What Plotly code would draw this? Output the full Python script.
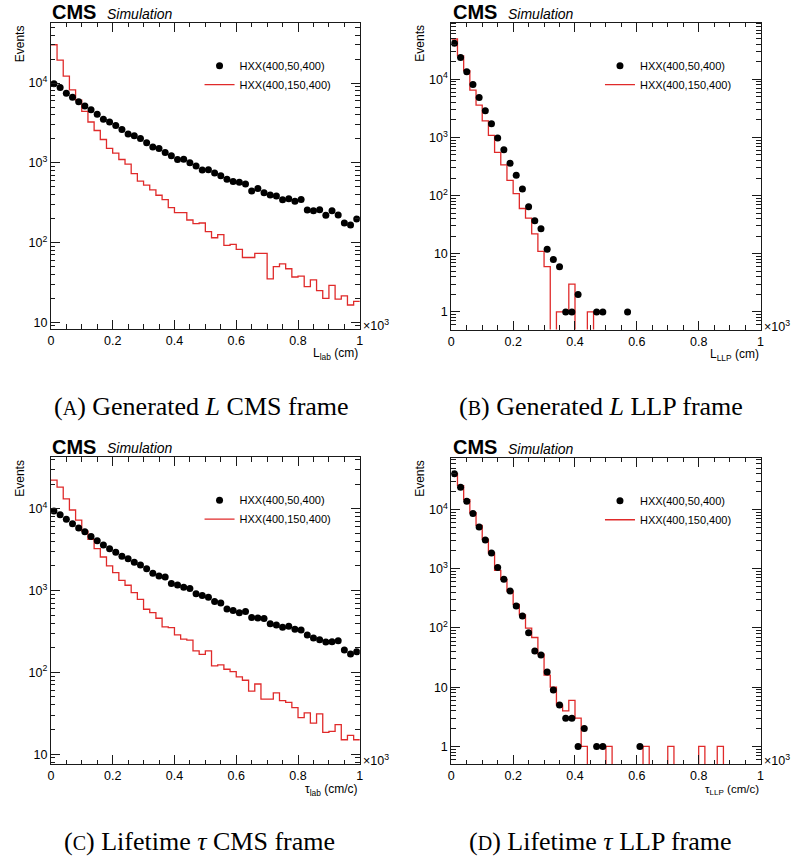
import numpy as np
import plotly.graph_objects as go

W, H = 791, 861

# 50 equal bins spanning [0, 1] x 10^3
N_BINS = 50
edges = np.linspace(0.0, 1.0, N_BINS + 1)
centers = 0.5 * (edges[:-1] + edges[1:])

legend_labels = ["HXX(400,50,400)", "HXX(400,150,400)"]
x_tick_vals = [0.0, 0.2, 0.4, 0.6, 0.8, 1.0]
x_tick_text = ["0", "0.2", "0.4", "0.6", "0.8", "1"]

# (A) decay length in the CMS frame
l_lab_m50 = [9800, 8800, 7450, 6620, 5840, 5160, 4620, 4060, 3520, 3250,
             2930, 2620, 2300, 2180, 2020, 1790, 1575, 1515, 1350, 1230,
             1100, 1110, 1000, 910, 815, 820, 745, 690, 620, 585,
             570, 541, 443, 478, 422, 394, 383, 345, 355, 329,
             348, 256, 251, 258, 220, 251, 222, 176, 166, 198]
l_lab_m150 = [30200, 19400, 12200, 8220, 6100, 4420, 3250, 2540, 1960, 1520,
              1320, 1100, 962, 730, 590, 526, 458, 392, 345, 275,
              237, 237, 192, 173, 176, 137, 115, 126, 92, 95,
              82, 65, 65, 73, 73, 35, 50, 54, 47, 37,
              38, 28, 34, 25, 20, 29, 19.5, 21.5, 16.5, 18.3]

# (B) decay length in the LLP frame
l_llp_m50 = [41400, 23600, 13500, 8100, 4850, 2870, 1710, 975, 615, 360,
             223, 130, 64, 37, 27, 12, 8, 6, 1, 1,
             2, 0, 0, 1, 1, 0, 0, 0, 1, 0,
             0, 0, 0, 0, 0, 0, 0, 0, 0, 0,
             0, 0, 0, 0, 0, 0, 0, 0, 0, 0]
l_llp_m150 = [49100, 25100, 14100, 6480, 3580, 1930, 1080, 553, 336, 183,
              108, 60, 41, 22, 11, 6, 0, 1, 1, 3,
              0, 0, 1, 0, 0, 0, 0, 0, 0, 0,
              0, 0, 0, 0, 0, 0, 0, 0, 0, 0,
              0, 0, 0, 0, 0, 0, 0, 0, 0, 0]

# (C) lifetime in the CMS frame
tau_lab_m50 = [9370, 8450, 7420, 6570, 5830, 5210, 4570, 4050, 3600, 3250,
               2940, 2620, 2440, 2220, 2050, 1840, 1630, 1500, 1460, 1220,
               1170, 1100, 1060, 910, 870, 825, 733, 703, 596, 571,
               535, 553, 469, 460, 455, 392, 380, 356, 367, 335,
               330, 285, 263, 251, 235, 236, 243, 187, 168, 178]
tau_lab_m150 = [22400, 18400, 13200, 9640, 7270, 5330, 4220, 3250, 2570, 2000,
                1650, 1330, 1160, 942, 781, 590, 537, 458, 359, 352,
                287, 254, 247, 183, 166, 183, 120, 123, 109, 102,
                88, 80, 59, 72, 47, 47, 56, 45, 43, 37,
                28, 32, 24, 31, 18.4, 19, 23, 15, 17, 15]

# (D) lifetime in the LLP frame
tau_llp_m50 = [39900, 23800, 13800, 8570, 5040, 3040, 1840, 1050, 661, 420,
               235, 159, 83, 41, 35, 18, 9, 5, 3, 3,
               1, 2, 0, 1, 1, 0, 0, 0, 0, 0,
               1, 0, 0, 0, 0, 0, 0, 0, 0, 0,
               0, 0, 0, 0, 0, 0, 0, 0, 0, 0]
tau_llp_m150 = [40000, 25300, 14700, 8790, 5370, 3120, 1840, 938, 661, 420,
                250, 166, 99, 69, 36, 16, 10, 5, 4, 6,
                3, 1, 0, 0, 0, 1, 0, 0, 0, 0,
                0, 1, 0, 0, 0, 1, 0, 0, 0, 0,
                1, 0, 0, 1, 0, 0, 0, 0, 0, 0]

SANS = "Liberation Sans"
SERIF = "Liberation Serif"
RED = "#e02a2a"
FRAME = "#1a1a1a"

# pixel boxes of the four frames: left, right, top, bottom
panels = [
    dict(box=(48.3, 360.0, 22.7, 329.3), yr=(0.9175, 4.757),
         m50=l_lab_m50, m150=l_lab_m150,
         xtitle="L<sub>lab</sub> (cm)", xtitle_size=12,
         caption='(<span style="font-size:20px">A</span>) Generated <i>L</i> CMS frame',
         cap_xy=(200, 407)),
    dict(box=(452.3, 764.3, 22.7, 330.0), yr=(-0.304, 4.972),
         m50=l_llp_m50, m150=l_llp_m150,
         xtitle="L<sub>LLP</sub> (cm)", xtitle_size=12,
         caption='(<span style="font-size:20px">B</span>) Generated <i>L</i> LLP frame',
         cap_xy=(603, 407)),
    dict(box=(48.3, 360.0, 457.7, 765.0), yr=(0.878, 4.63),
         m50=tau_lab_m50, m150=tau_lab_m150,
         xtitle="τ<sub>lab</sub> (cm/c)", xtitle_size=12,
         caption='(<span style="font-size:20px">C</span>) Lifetime <i>τ</i> CMS frame',
         cap_xy=(198, 842)),
    dict(box=(452.3, 764.3, 458.3, 765.0), yr=(-0.298, 4.872),
         m50=tau_llp_m50, m150=tau_llp_m150,
         xtitle="τ<sub>LLP</sub> (cm/c)", xtitle_size=11.5,
         caption='(<span style="font-size:20px">D</span>) Lifetime <i>τ</i> LLP frame',
         cap_xy=(603, 842)),
]


def px(x):
    return x / W


def py(y):
    return 1.0 - y / H


def log_ticks(lo, hi):
    major, text, minor = [], [], []
    for d in range(-1, 6):
        v = 10.0 ** d
        if lo - 1e-6 <= d <= hi + 1e-6:
            major.append(v)
            text.append("1" if d == 0 else "10" if d == 1 else f"10<sup>{d}</sup>")
        for k in range(2, 10):
            m = k * v
            if lo <= np.log10(m) <= hi:
                minor.append(m)
    return major, text, minor


fig = go.Figure()
annotations = []
layout_axes = {}

for i, p in enumerate(panels):
    n = i + 1
    sfx = "" if n == 1 else str(n)
    xa, ya = f"x{sfx}", f"y{sfx}"
    leg = "legend" if n == 1 else f"legend{n}"
    x0, x1, y0, y1 = p["box"]

    # histogram drawn as a step line; empty bins fall below the frame
    h150 = np.array(p["m150"], dtype=float)
    h150 = np.where(h150 > 0, h150, 1e-4)
    fig.add_trace(go.Scatter(
        x=edges, y=np.append(h150, h150[-1]), mode="lines",
        line=dict(color=RED, width=1.3, shape="hv"),
        name=legend_labels[1], xaxis=xa, yaxis=ya, legend=leg, legendrank=2,
        hoverinfo="skip"))

    h50 = np.array(p["m50"], dtype=float)
    keep = h50 > 0
    fig.add_trace(go.Scatter(
        x=centers[keep], y=h50[keep], mode="markers",
        marker=dict(color="black", size=7, symbol="circle"),
        name=legend_labels[0], xaxis=xa, yaxis=ya, legend=leg, legendrank=1))

    major, mtext, minor = log_ticks(*p["yr"])
    layout_axes[f"xaxis{sfx}"] = dict(
        domain=[px(x0), px(x1)], anchor=ya, range=[0, 1],
        tickmode="array", tickvals=x_tick_vals, ticktext=x_tick_text,
        ticks="inside", ticklen=9, tickwidth=1, tickcolor=FRAME,
        minor=dict(dtick=0.05, tick0=0, ticks="inside", ticklen=4.5,
                   tickwidth=1, tickcolor=FRAME),
        showline=True, linecolor=FRAME, linewidth=1, mirror="ticks",
        showgrid=False, zeroline=False,
        tickfont=dict(family=SANS, size=12.5, color="black"))
    layout_axes[f"yaxis{sfx}"] = dict(
        domain=[py(y1), py(y0)], anchor=xa, type="log", range=list(p["yr"]),
        tickmode="array", tickvals=major, ticktext=mtext,
        ticks="inside", ticklen=9, tickwidth=1, tickcolor=FRAME,
        minor=dict(tickmode="array", tickvals=minor, ticks="inside",
                   ticklen=4.5, tickwidth=1, tickcolor=FRAME),
        showline=True, linecolor=FRAME, linewidth=1, mirror="ticks",
        showgrid=False, zeroline=False,
        tickfont=dict(family=SANS, size=12.5, color="black"))

    layout_axes[leg] = dict(
        x=px(x0 + 150), y=py(y0 + 28.5), xanchor="left", yanchor="top",
        bgcolor="rgba(0,0,0,0)", borderwidth=0, tracegroupgap=0,
        font=dict(family=SANS, size=11, color="black"))

    # CMS Simulation label
    annotations.append(dict(
        x=px(x0 - 0.5), y=py(y0 - 10.5), xref="paper", yref="paper",
        xanchor="left", yanchor="middle", showarrow=False, text="<b>CMS</b>",
        font=dict(family=SANS, size=20, color="black")))
    annotations.append(dict(
        x=px(x0 + 55), y=py(y0 - 9), xref="paper", yref="paper",
        xanchor="left", yanchor="middle", showarrow=False, text="<i>Simulation</i>",
        font=dict(family=SANS, size=14, color="black")))
    # y title
    annotations.append(dict(
        x=px(x0 - 31.5), y=py(y0 + 21), xref="paper", yref="paper",
        xanchor="center", yanchor="middle", textangle=-90, showarrow=False,
        text="Events", font=dict(family=SANS, size=12, color="black")))
    # x title
    annotations.append(dict(
        x=px(x1 - 1), y=py(y1 + 25.5), xref="paper", yref="paper",
        xanchor="right", yanchor="middle", showarrow=False, text=p["xtitle"],
        borderpad=0, font=dict(family=SANS, size=p["xtitle_size"], color="black")))
    # axis multiplier
    annotations.append(dict(
        x=px(x1 + 1), y=py(y1 - 4), xref="paper", yref="paper",
        xanchor="left", yanchor="middle", showarrow=False,
        text="×10<sup>3</sup>", font=dict(family=SANS, size=12.5, color="black")))
    # sub-figure caption
    annotations.append(dict(
        x=px(p["cap_xy"][0]), y=py(p["cap_xy"][1]), xref="paper", yref="paper",
        xanchor="center", yanchor="middle", showarrow=False, text=p["caption"],
        font=dict(family=SERIF, size=26, color="black")))

fig.update_layout(
    width=W, height=H, margin=dict(l=0, r=0, t=0, b=0),
    paper_bgcolor="white", plot_bgcolor="white",
    showlegend=True, annotations=annotations, **layout_axes)

fig.write_html("out.html")
